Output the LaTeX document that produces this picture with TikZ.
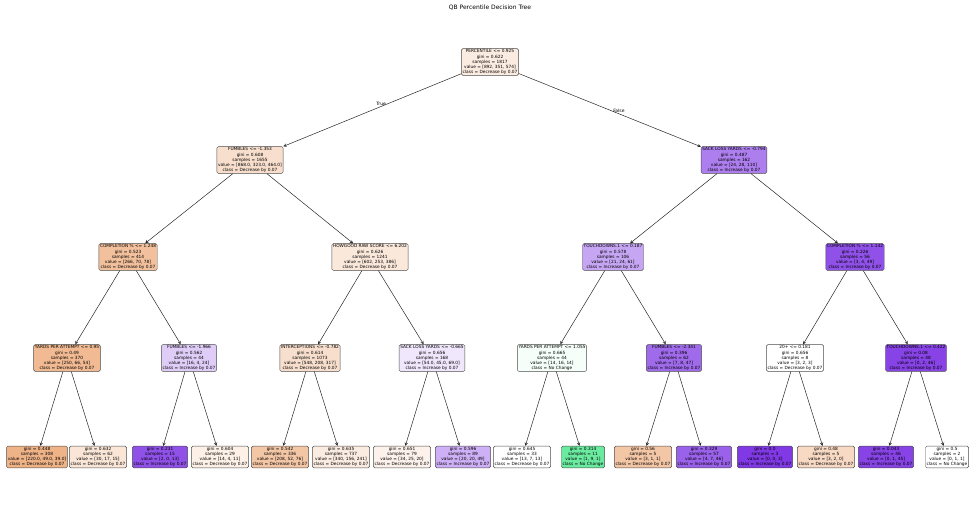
\documentclass[tikz,border=0pt]{standalone}
\usepackage{fontspec}
\setmainfont{DejaVu Sans}
\begin{document}
\definecolor{dec}{HTML}{E58139}
\definecolor{noc}{HTML}{39E581}
\definecolor{inc}{HTML}{8139E5}
\begin{tikzpicture}[x=1pt,y=-1pt,
  n/.style={draw=black!70,rounded corners=1.5pt,align=center,inner sep=1.2pt,font=\fontsize{4.3}{5.1}\selectfont},
  e/.style={draw=black!85,line width=0.5pt,-stealth}]
\useasboundingbox (0,0) rectangle (980,510);
\node[font=\fontsize{6}{7}\selectfont] (title) at (490,8) {QB Percentile Decision Tree};
\node[n,fill=dec!15] (r) at (490,62) {PERCENTILE <= 0.925\\gini = 0.622\\samples = 1817\\value = [892, 351, 574]\\class = Decrease by 0.07};
\node[n,fill=dec!25] (a) at (250,160) {FUMBLES <= -1.353\\gini = 0.608\\samples = 1655\\value = [868.0, 323.0, 464.0]\\class = Decrease by 0.07};
\node[n,fill=inc!65] (b) at (734,160) {SACK LOSS YARDS <= -0.794\\gini = 0.487\\samples = 162\\value = [24, 28, 110]\\class = Increase by 0.07};
\node[n,fill=dec!50] (aa) at (128,257) {COMPLETION \% <= 1.248\\gini = 0.523\\samples = 414\\value = [266, 70, 78]\\class = Decrease by 0.07};
\node[n,fill=dec!18] (ab) at (370,257) {HOWGOOD RAW SCORE <= 6.202\\gini = 0.626\\samples = 1241\\value = [602, 253, 386]\\class = Decrease by 0.07};
\node[n,fill=inc!45] (ba) at (613,257) {TOUCHDOWNS.1 <= 0.187\\gini = 0.578\\samples = 106\\value = [21, 24, 61]\\class = Increase by 0.07};
\node[n,fill=inc!88] (bb) at (855,257) {COMPLETION \% <= 1.142\\gini = 0.226\\samples = 56\\value = [3, 4, 49]\\class = Increase by 0.07};
\node[n,fill=dec!55] (c1) at (67,358) {YARDS PER ATTEMPT <= 0.95\\gini = 0.49\\samples = 370\\value = [250, 66, 54]\\class = Decrease by 0.07};
\node[n,fill=inc!25] (c2) at (189,358) {FUMBLES <= -1.966\\gini = 0.562\\samples = 44\\value = [16, 4, 24]\\class = Increase by 0.07};
\node[n,fill=dec!25] (c3) at (310,358) {INTERCEPTIONS <= -0.782\\gini = 0.614\\samples = 1073\\value = [548, 208, 317]\\class = Decrease by 0.07};
\node[n,fill=inc!12] (c4) at (432,358) {SACK LOSS YARDS <= -0.665\\gini = 0.656\\samples = 168\\value = [54.0, 45.0, 69.0]\\class = Increase by 0.07};
\node[n,fill=noc!5] (c5) at (552,358) {YARDS PER ATTEMPT <= 1.055\\gini = 0.665\\samples = 44\\value = [14, 16, 14]\\class = No Change};
\node[n,fill=inc!75] (c6) at (674,358) {FUMBLES <= -2.341\\gini = 0.396\\samples = 62\\value = [7, 8, 47]\\class = Increase by 0.07};
\node[n,fill=white] (c7) at (795,358) {20+ <= 0.181\\gini = 0.656\\samples = 8\\value = [3, 2, 3]\\class = Decrease by 0.07};
\node[n,fill=inc!95] (c8) at (916,358) {TOUCHDOWNS.1 <= 0.422\\gini = 0.08\\samples = 48\\value = [0, 2, 46]\\class = Increase by 0.07};
\node[n,fill=dec!60] (l1) at (37,457) {gini = 0.448\\samples = 308\\value = [220.0, 49.0, 39.0]\\class = Decrease by 0.07};
\node[n,fill=dec!20] (l2) at (98,457) {gini = 0.632\\samples = 62\\value = [30, 17, 15]\\class = Decrease by 0.07};
\node[n,fill=inc!88] (l3) at (160,457) {gini = 0.231\\samples = 15\\value = [2, 0, 13]\\class = Increase by 0.07};
\node[n,fill=dec!12] (l4) at (220,457) {gini = 0.604\\samples = 29\\value = [14, 4, 11]\\class = Decrease by 0.07};
\node[n,fill=dec!45] (l5) at (280,457) {gini = 0.542\\samples = 336\\value = [208, 52, 76]\\class = Decrease by 0.07};
\node[n,fill=dec!15] (l6) at (341,457) {gini = 0.635\\samples = 737\\value = [340, 156, 241]\\class = Decrease by 0.07};
\node[n,fill=dec!10] (l7) at (402,457) {gini = 0.651\\samples = 79\\value = [34, 25, 20]\\class = Decrease by 0.07};
\node[n,fill=inc!40] (l8) at (463,457) {gini = 0.596\\samples = 89\\value = [20, 20, 49]\\class = Increase by 0.07};
\node[n,fill=white] (l9) at (522,457) {gini = 0.645\\samples = 33\\value = [13, 7, 13]\\class = Decrease by 0.07};
\node[n,fill=noc!75] (l10) at (583,457) {gini = 0.314\\samples = 11\\value = [1, 9, 1]\\class = No Change};
\node[n,fill=dec!45] (l11) at (643,457) {gini = 0.56\\samples = 5\\value = [3, 1, 1]\\class = Decrease by 0.07};
\node[n,fill=inc!80] (l12) at (704,457) {gini = 0.329\\samples = 57\\value = [4, 7, 46]\\class = Increase by 0.07};
\node[n,fill=inc] (l13) at (765,457) {gini = 0.0\\samples = 3\\value = [0, 0, 3]\\class = Increase by 0.07};
\node[n,fill=dec!30] (l14) at (826,457) {gini = 0.48\\samples = 5\\value = [3, 2, 0]\\class = Decrease by 0.07};
\node[n,fill=inc!95] (l15) at (886,457) {gini = 0.043\\samples = 46\\value = [0, 1, 45]\\class = Increase by 0.07};
\node[n,fill=white] (l16) at (947,457) {gini = 0.5\\samples = 2\\value = [0, 1, 1]\\class = No Change};
\draw[e] (r) -- node[pos=0.45,above,font=\fontsize{4.5}{5}\selectfont,inner sep=1pt]{True} (a);
\draw[e] (r) -- node[pos=0.55,above,font=\fontsize{4.5}{5}\selectfont,inner sep=1pt]{False} (b);
\foreach \p/\c in {a/aa,a/ab,b/ba,b/bb,aa/c1,aa/c2,ab/c3,ab/c4,ba/c5,ba/c6,bb/c7,bb/c8,
  c1/l1,c1/l2,c2/l3,c2/l4,c3/l5,c3/l6,c4/l7,c4/l8,c5/l9,c5/l10,c6/l11,c6/l12,c7/l13,c7/l14,c8/l15,c8/l16}
  \draw[e] (\p) -- (\c);
\end{tikzpicture}
\end{document}
